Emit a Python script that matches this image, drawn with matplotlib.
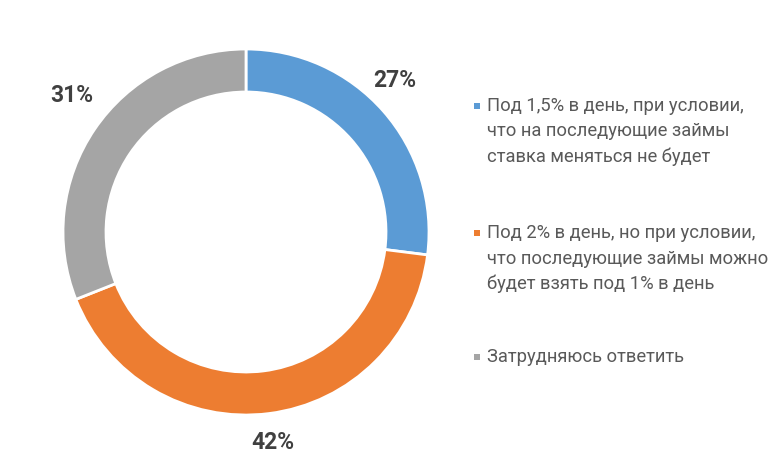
import matplotlib
matplotlib.use("Agg")
import matplotlib.pyplot as plt
import numpy as np

categories = [
    "Под 1,5% в день, при условии,\nчто на последующие займы\nставка меняться не будет",
    "Под 2% в день, но при условии,\nчто последующие займы можно\nбудет взять под 1% в день",
    "Затрудняюсь ответить",
]
values = [27, 42, 31]
colors = ["#5B9BD5", "#ED7D31", "#A5A5A5"]

W, H = 780, 471
fig = plt.figure(figsize=(W / 100, H / 100), dpi=100)
ax = fig.add_axes([0, 0, 1, 1])

cx, cy, R = 246, H - 232, 183
wedges, texts, autotexts = ax.pie(
    values, colors=colors, startangle=90, counterclock=False,
    radius=R, center=(cx, cy),
    wedgeprops=dict(width=43, edgecolor="white", linewidth=2),
    autopct=lambda p: f"{p:.0f}%", pctdistance=1.17,
    textprops=dict(fontsize=16.5, fontweight="bold", color="#404040", family="Roboto"),
)
# fine-tune label placement (Excel "outside end" style)
label_dist = [1.16, 1.16, 1.21]
label_rot = [4, 0, -4]
for w, t, d, r in zip(wedges, autotexts, label_dist, label_rot):
    ang = np.deg2rad((w.theta1 + w.theta2) / 2 + r)
    t.set_position((cx + R * d * np.cos(ang), cy + R * d * np.sin(ang)))

ax.set_xlim(0, W)
ax.set_ylim(0, H)
ax.set_aspect("equal")
ax.axis("off")

# legend
leg_x_marker, leg_x_text = 477, 487
entry_tops = [H - 106, H - 233, H - 357]
line_gap = 25.5
for lab, col, y0 in zip(categories, colors, entry_tops):
    ax.scatter([leg_x_marker], [y0], marker="s", s=22, color=col, linewidths=0)
    for j, line in enumerate(lab.split("\n")):
        ax.text(leg_x_text, y0 - j * line_gap, line, va="center", ha="left",
                fontsize=13.2, color="#595959", family="Roboto")

fig.savefig("out.png", dpi=100, facecolor="white")
